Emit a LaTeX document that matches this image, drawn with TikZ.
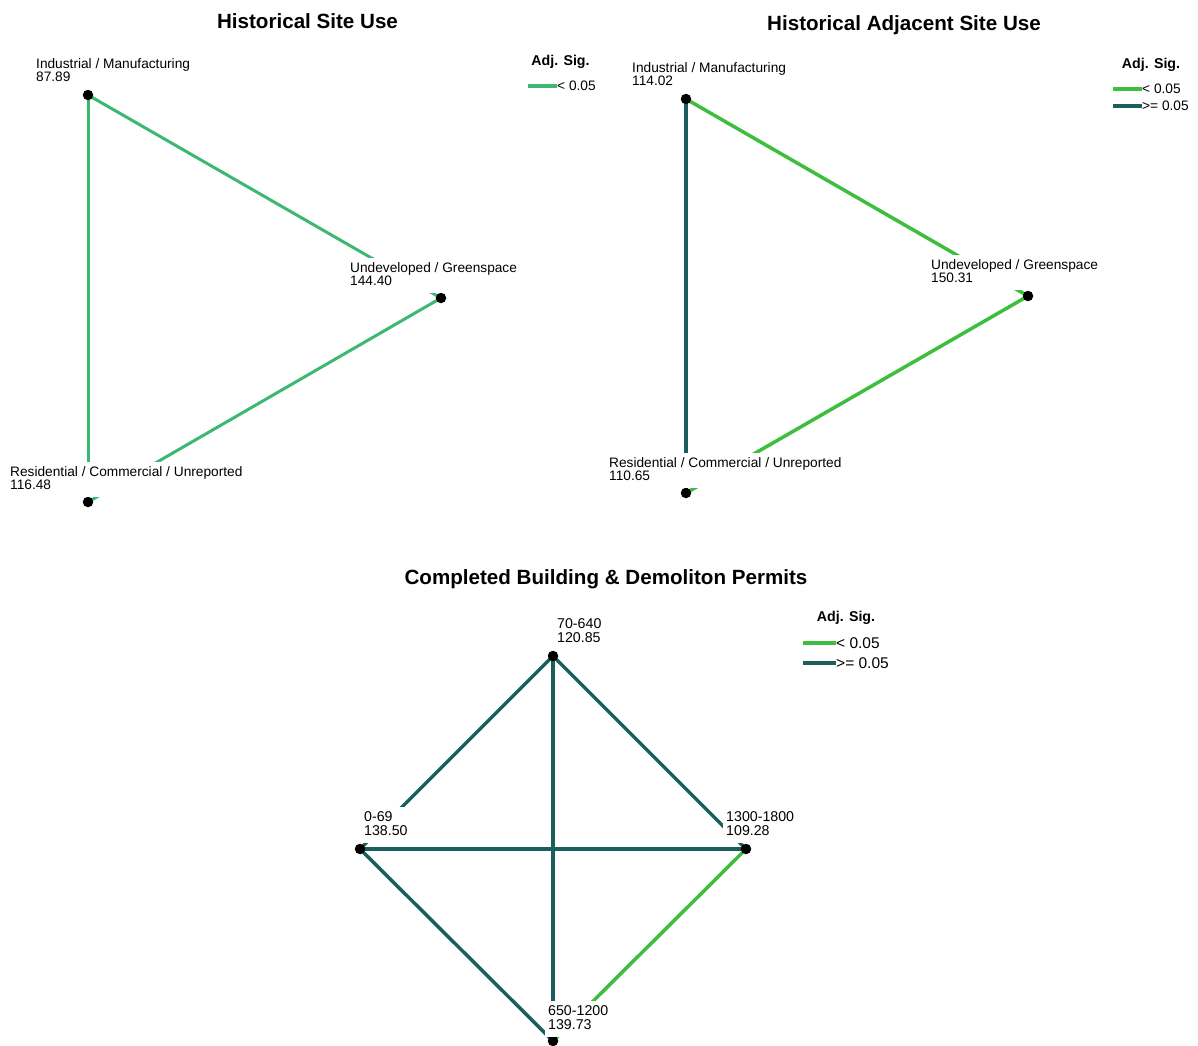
\documentclass[tikz,border=0pt]{standalone}
\usepackage{fontspec}
\setmainfont{Liberation Sans}
\definecolor{gA}{RGB}{60,184,112}
\definecolor{gB}{RGB}{62,190,62}
\definecolor{tl}{RGB}{26,94,94}
\pgfdeclarelayer{bg}
\pgfsetlayers{bg,main}
\newcommand{\twol}[2]{\begin{tabular}[t]{@{}l@{}}#1\\#2\end{tabular}}
\begin{document}
\begin{tikzpicture}[x=1pt,y=-1pt,
  ttl/.style={font=\bfseries\fontsize{20.6}{24}\selectfont, anchor=base, inner sep=0pt},
  lbl/.style={font=\fontsize{13.7}{13}\selectfont, anchor=base west, fill=white, inner xsep=3pt, inner ysep=4pt},
  lblc/.style={font=\fontsize{14.2}{14}\selectfont, anchor=base west, fill=white, inner xsep=3pt, inner ysep=4pt},
  dot/.style={circle, fill=black, inner sep=0pt, minimum size=10.5pt},
  lgt/.style={font=\bfseries\fontsize{14.2}{17}\selectfont, anchor=base, inner sep=0pt},
  lge/.style={font=\fontsize{13.7}{16}\selectfont, anchor=west, inner sep=0pt},
  lgec/.style={font=\fontsize{15.5}{18}\selectfont, anchor=west, inner sep=0pt},
  eA/.style={gA, line width=3pt},
  eB/.style={gB, line width=3.5pt},
  eT/.style={tl, line width=3.5pt},
]
\useasboundingbox (0,0) rectangle (1198,1045);

% ---------- Panel 1 ----------
\node[ttl] (t1) at (307.5,28) {Historical Site Use};
\node[dot] (i1) at (88,95) {};
\node[dot] (u1) at (441,298) {};
\node[dot] (r1) at (88,502) {};
\node[lbl] (li1) at (33,68) {\twol{Industrial / Manufacturing}{87.89}};
\node[lbl] (lu1) at (347,272) {\twol{Undeveloped / Greenspace}{144.40}};
\node[lbl] (lr1) at (7,476) {\twol{Residential / Commercial / Unreported}{116.48}};
\begin{pgfonlayer}{bg}
\draw[eA] (i1.center) -- (u1.center);
\draw[eA] (i1.center) -- (r1.center);
\draw[eA] (r1.center) -- (u1.center);
\end{pgfonlayer}
\node[lgt] (g1) at (560.5,65) {Adj. Sig.};
\node[lge] (g1a) at (557,86) {< 0.05};
\coordinate (s1a) at (528,86);
\draw[gA, line width=3.5pt] (s1a) -- (g1a.west);

% ---------- Panel 2 ----------
\node[ttl] (t2) at (904,30) {Historical Adjacent Site Use};
\node[dot] (i2) at (686,99) {};
\node[dot] (u2) at (1028,296) {};
\node[dot] (r2) at (686,493) {};
\node[lbl] (li2) at (629,72) {\twol{Industrial / Manufacturing}{114.02}};
\node[lbl] (lu2) at (928,269) {\twol{Undeveloped / Greenspace}{150.31}};
\node[lbl] (lr2) at (606,467) {\twol{Residential / Commercial / Unreported}{110.65}};
\begin{pgfonlayer}{bg}
\draw[eB] (i2.center) -- (u2.center);
\draw[eT] (i2.center) -- (r2.center);
\draw[eB] (r2.center) -- (u2.center);
\end{pgfonlayer}
\node[lgt] (g2) at (1151,68) {Adj. Sig.};
\node[lge] (g2a) at (1142,89) {< 0.05};
\node[lge] (g2b) at (1142,106) {>= 0.05};
\coordinate (s2a) at (1113,89);
\coordinate (s2b) at (1113,106);
\draw[gB, line width=3.5pt] (s2a) -- (g2a.west);
\draw[tl, line width=3.5pt] (s2b) -- (g2b.west);

% ---------- Panel 3 ----------
\node[ttl] (t3) at (606,584) {Completed Building \& Demoliton Permits};
\node[dot] (a3) at (553,656) {};
\node[dot] (b3) at (360,849) {};
\node[dot] (c3) at (746,849) {};
\node[dot] (d3) at (553,1041) {};
\node[lblc] (la3) at (554,628) {\twol{70-640}{120.85}};
\node[lblc] (lb3) at (361,821) {\twol{0-69}{138.50}};
\node[lblc] (lc3) at (723,821) {\twol{1300-1800}{109.28}};
\node[lblc] (ld3) at (545,1015) {\twol{650-1200}{139.73}};
\begin{pgfonlayer}{bg}
\draw[eT] (a3.center) -- (b3.center);
\draw[eT] (a3.center) -- (c3.center);
\draw[eT] (a3.center) -- (d3.center);
\draw[eT] (b3.center) -- (c3.center);
\draw[eT] (b3.center) -- (d3.center);
\draw[eB] (c3.center) -- (d3.center);
\end{pgfonlayer}
\node[lgt] (g3) at (846,621) {Adj. Sig.};
\node[lgec] (g3a) at (836,643) {< 0.05};
\node[lgec] (g3b) at (836,663) {>= 0.05};
\coordinate (s3a) at (803,643);
\coordinate (s3b) at (803,663);
\draw[gB, line width=3.5pt] (s3a) -- (g3a.west);
\draw[tl, line width=3.5pt] (s3b) -- (g3b.west);
\end{tikzpicture}
\end{document}
